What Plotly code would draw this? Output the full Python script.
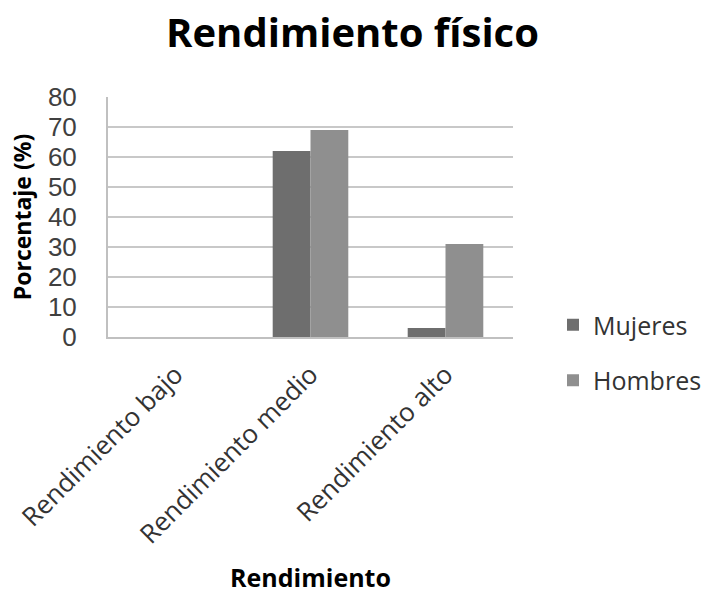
import plotly.graph_objects as go

categorias = ["Rendimiento bajo", "Rendimiento medio", "Rendimiento alto"]
mujeres = [0, 62, 3]
hombres = [0, 69, 31]
y_ticks = [0, 10, 20, 30, 40, 50, 60, 70, 80]

FONT = "Open Sans"

fig = go.Figure()
fig.add_trace(go.Bar(name="Mujeres", x=categorias, y=mujeres,
                     marker=dict(color="#6e6e6e", line=dict(width=0)),
                     legendgroup="m"))
fig.add_trace(go.Bar(name="Hombres", x=categorias, y=hombres,
                     marker=dict(color="#8f8f8f", line=dict(width=0)),
                     legendgroup="h"))

fig.update_layout(
    width=705, height=594,
    margin=dict(l=108, r=192, t=97, b=257, autoexpand=False),
    paper_bgcolor="white", plot_bgcolor="white",
    barmode="group", bargap=0.44, bargroupgap=0,
    title=dict(text="<b>Rendimiento físico</b>", x=0.5, xanchor="center",
               y=1 - 33 / 594, yanchor="middle",
               font=dict(family=FONT, size=40, color="#000000")),
    font=dict(family=FONT, color="#333333"),
    xaxis=dict(
        tickangle=-45, tickfont=dict(size=26, color="#333333"),
        showgrid=False, showline=True, linecolor="#c0c0c0", linewidth=2,
        ticks="outside", ticklen=10, tickcolor="rgba(0,0,0,0)",
        automargin=False,
        title=dict(text="<b>Rendimiento</b>", font=dict(family=FONT, size=25, color="#000000"),
                   standoff=30),
    ),
    yaxis=dict(
        range=[0, 80], tickvals=y_ticks,
        tickfont=dict(family="Liberation Sans", size=26, color="#404040"),
        showgrid=True, gridcolor="#c8c8c8", gridwidth=2,
        showline=True, linecolor="#c0c0c0", linewidth=2,
        ticks="outside", ticklen=24, tickcolor="rgba(0,0,0,0)", zeroline=False,
        automargin=False,
        title=dict(text="<b>Porcentaje (%)</b>", font=dict(family=FONT, size=23, color="#000000"),
                   standoff=10),
    ),
    legend=dict(xref="container", yref="container", x=553 / 705, xanchor="left",
                y=1 - 302 / 594, yanchor="top",
                font=dict(size=25, color="#333333"), tracegroupgap=20,
                bgcolor="rgba(0,0,0,0)"),
)

fig.write_html("out.html")
